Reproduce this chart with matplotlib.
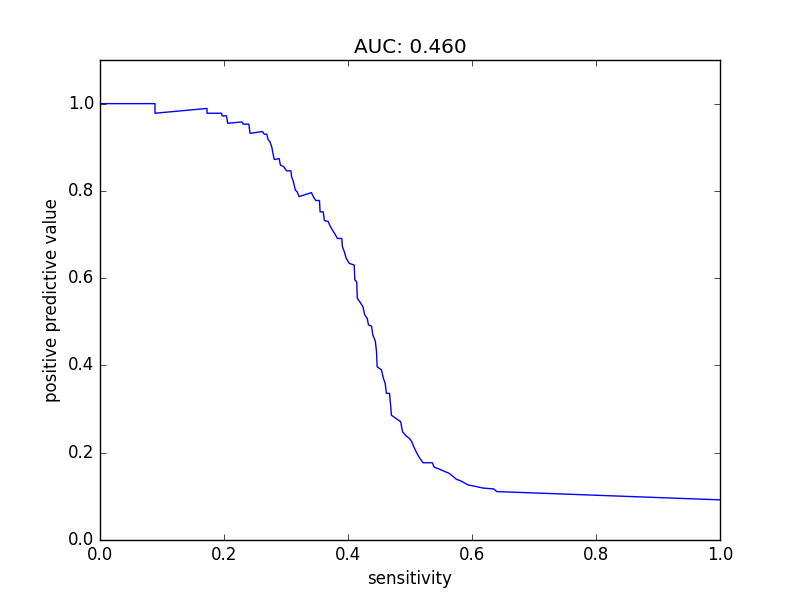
import numpy as np
import matplotlib
matplotlib.use('Agg')
import matplotlib.pyplot as plt

# precision / recall curve vertices
sensitivity = [0.0, 0.0887, 0.0887, 0.1726, 0.1726, 0.196, 0.197, 0.204, 0.206, 0.229,
               0.231, 0.240, 0.242, 0.262, 0.265, 0.269, 0.271, 0.274, 0.277, 0.279,
               0.281, 0.289, 0.291, 0.296, 0.301, 0.308, 0.309, 0.312, 0.315, 0.318,
               0.321, 0.341, 0.344, 0.348, 0.354, 0.355, 0.360, 0.362, 0.368, 0.371,
               0.375, 0.379, 0.383, 0.390, 0.391, 0.394, 0.397, 0.402, 0.410, 0.411,
               0.414, 0.415, 0.419, 0.424, 0.427, 0.431, 0.433, 0.438, 0.440, 0.444,
               0.446, 0.447, 0.454, 0.457, 0.460, 0.462, 0.467, 0.469, 0.470, 0.479,
               0.485, 0.488, 0.494, 0.499, 0.503, 0.506, 0.511, 0.516, 0.521, 0.536,
               0.539, 0.548, 0.556, 0.563, 0.570, 0.575, 0.581, 0.589, 0.594, 0.605,
               0.618, 0.635, 0.640, 1.0]
ppv = [1.0, 1.0, 0.978, 0.989, 0.978, 0.978, 0.972, 0.972, 0.955, 0.958,
       0.953, 0.953, 0.932, 0.936, 0.930, 0.930, 0.918, 0.913, 0.901, 0.886,
       0.872, 0.874, 0.859, 0.856, 0.846, 0.846, 0.833, 0.821, 0.802, 0.798,
       0.787, 0.796, 0.787, 0.778, 0.778, 0.752, 0.752, 0.732, 0.730, 0.720,
       0.710, 0.701, 0.691, 0.691, 0.672, 0.661, 0.646, 0.634, 0.630, 0.596,
       0.592, 0.554, 0.546, 0.535, 0.516, 0.508, 0.493, 0.490, 0.470, 0.456,
       0.432, 0.397, 0.390, 0.371, 0.359, 0.336, 0.336, 0.305, 0.286, 0.277,
       0.271, 0.248, 0.238, 0.233, 0.225, 0.214, 0.199, 0.187, 0.177, 0.177,
       0.167, 0.162, 0.157, 0.153, 0.145, 0.139, 0.136, 0.130, 0.126, 0.123,
       0.119, 0.117, 0.111, 0.092]
auc = 0.460

plt.style.use('classic')
fig = plt.figure(figsize=(8, 6), dpi=100)
ax = fig.add_subplot(111)
ax.plot(sensitivity, ppv, color='b', linewidth=1)
ax.set_xlim(0, 1)
ax.set_ylim(0, 1.1)
ax.set_xlabel('sensitivity')
ax.set_ylabel('positive predictive value')
ax.set_title('AUC: %.3f' % auc)
fig.savefig('out.png', dpi=100, facecolor='white')
